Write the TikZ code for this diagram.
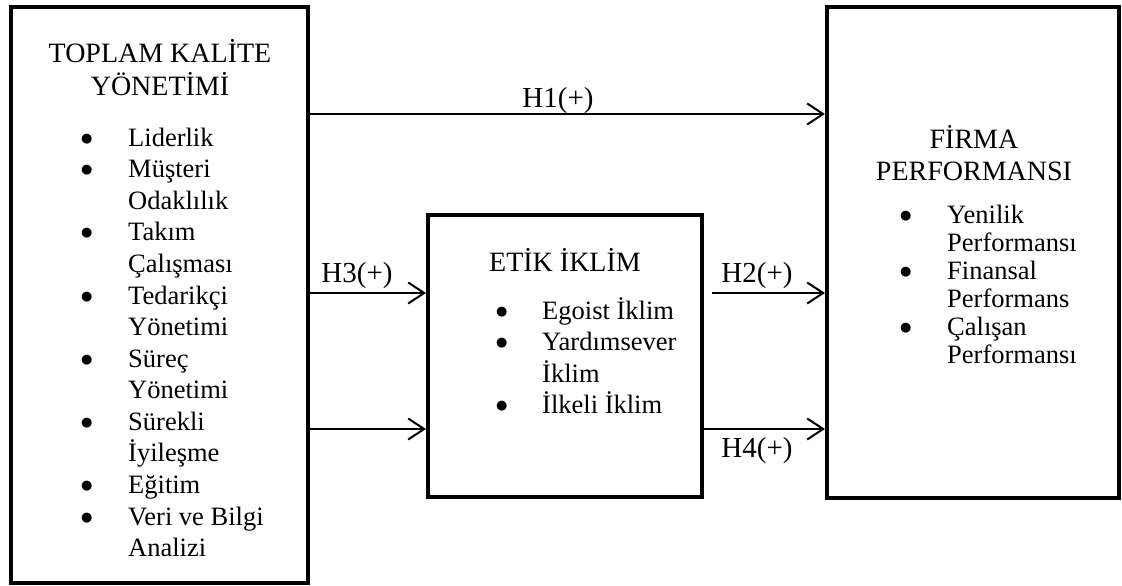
\documentclass[tikz,border=0pt]{standalone}
\usepackage{fontspec}
\setmainfont{Liberation Serif}
\newfontfamily\symfont{DejaVu Sans}
\usetikzlibrary{arrows.meta}
\newcommand{\hdrfont}{\rmfamily\fontsize{28}{32}\selectfont}
\newcommand{\itmfont}{\rmfamily\fontsize{26.5}{31.6}\selectfont}
\newcommand{\itmfontb}{\rmfamily\fontsize{26.5}{28}\selectfont}
\newcommand{\bul}{\raisebox{4pt}{\symfont\fontsize{13}{13}\selectfont ●}}
\tikzset{
  box/.style={draw, line width=4pt, rectangle, inner sep=0pt},
  hdr/.style={anchor=base, inner sep=0pt, font=\hdrfont},
  lst/.style={anchor=base west, inner sep=0pt},
  lbl/.style={anchor=base, inner sep=0pt, font=\rmfamily\fontsize{29}{32}\selectfont},
  conn/.style={line width=2pt, -{Straight Barb[length=16pt,width=21pt,line width=2pt]}}
}
\begin{document}
\begin{tikzpicture}[x=1pt,y=-1pt]
\useasboundingbox (0,0) rectangle (1122,586);
% boxes
\node[box, minimum width=297pt, minimum height=576pt] (tkm) at (159.5,295) {};
\node[box, minimum width=292pt, minimum height=491pt] (fp) at (973,252.5) {};
\node[box, minimum width=274pt, minimum height=282pt] (ei) at (565,356) {};
% headers
\node[hdr] (tkmh) at (160,63) {\begin{tabular}[t]{@{}c@{}}TOPLAM KALİTE\\YÖNETİMİ\end{tabular}};
\node[hdr] (eih) at (565,271) {ETİK İKLİM};
\node[hdr] (fph) at (974,148) {\begin{tabular}[t]{@{}c@{}}FİRMA\\PERFORMANSI\end{tabular}};
% lists
\node[lst] (tkml) at (81,146) {\itmfont\begin{tabular}[t]{@{}p{47pt}@{}l@{}}
\bul & Liderlik\\
\bul & Müşteri\\
  & Odaklılık\\
\bul & Takım\\
  & Çalışması\\
\bul & Tedarikçi\\
  & Yönetimi\\
\bul & Süreç\\
  & Yönetimi\\
\bul & Sürekli\\
  & İyileşme\\
\bul & Eğitim\\
\bul & Veri ve Bilgi\\
  & Analizi
\end{tabular}};
\node[lst] (eil) at (496,319) {\itmfont\begin{tabular}[t]{@{}p{46pt}@{}l@{}}
\bul & Egoist İklim\\
\bul & Yardımsever\\
  & İklim\\
\bul & İlkeli İklim
\end{tabular}};
\node[lst] (fpl) at (900,223) {\itmfontb\begin{tabular}[t]{@{}p{47pt}@{}l@{}}
\bul & Yenilik\\
  & Performansı\\
\bul & Finansal\\
  & Performans\\
\bul & Çalışan\\
  & Performansı
\end{tabular}};
% connectors
\coordinate (y1) at (0,114);
\coordinate (y2) at (0,293);
\coordinate (y3) at (0,429);
\coordinate (h2s) at (712,293);
\draw[conn] (tkm.east |- y1) -- (fp.west |- y1);
\draw[conn] (tkm.east |- y2) -- (ei.west |- y2);
\draw[conn] (tkm.east |- y3) -- (ei.west |- y3);
\draw[conn] (h2s) -- (fp.west |- y2);
\draw[conn] (ei.east |- y3) -- (fp.west |- y3);
% labels
\node[lbl] (l1) at (558,107) {H1(+)};
\node[lbl] (l3) at (357,282) {H3(+)};
\node[lbl] (l2) at (757,282) {H2(+)};
\node[lbl] (l4) at (757,457) {H4(+)};
\end{tikzpicture}
\end{document}
